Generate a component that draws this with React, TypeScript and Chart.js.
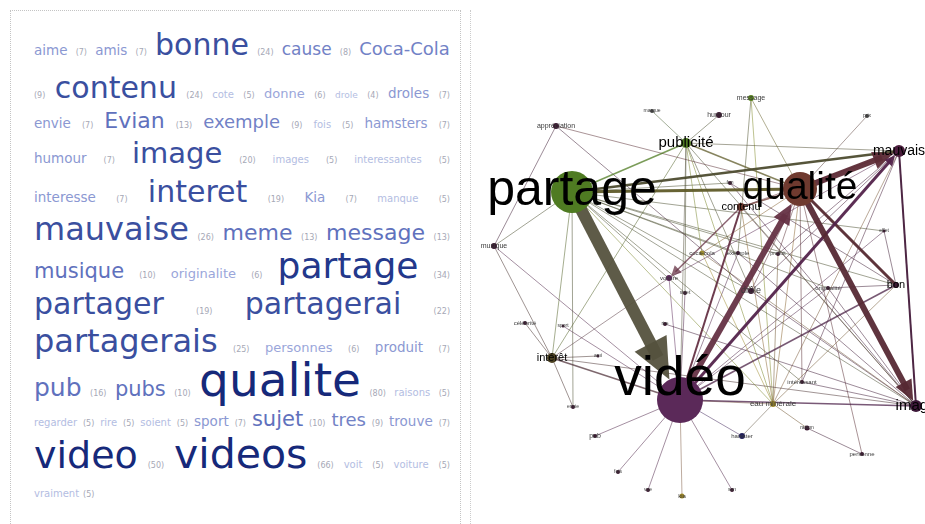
import React, { useEffect, useRef } from "react";
import { Chart, registerables } from "chart.js";

Chart.register(...registerables);

// ---------------- Word cloud data ----------------
const WORDS = [
  "aime", "amis", "bonne", "cause", "Coca-Cola", "contenu", "cote", "donne", "drole", "droles",
  "envie", "Evian", "exemple", "fois", "hamsters", "humour", "image", "images", "interessantes", "interesse",
  "interet", "Kia", "manque", "mauvaise", "meme", "message", "musique", "originalite", "partage", "partager",
  "partagerai", "partagerais", "personnes", "produit", "pub", "pubs", "qualite", "raisons", "regarder", "rire",
  "soient", "sport", "sujet", "tres", "trouve", "video", "videos", "voit", "voiture", "vraiment",
];
const COUNTS = [
  7, 7, 24, 8, 9, 24, 5, 6, 4, 7,
  7, 13, 9, 5, 7, 7, 20, 5, 5, 7,
  19, 7, 5, 26, 13, 13, 10, 6, 34, 19,
  22, 25, 6, 7, 16, 10, 80, 5, 5, 5,
  5, 7, 10, 9, 7, 50, 66, 5, 5, 5,
];
// token index (word = 2i, count = 2i+1) at which each printed line starts
const LINE_STARTS = [0, 9, 20, 30, 38, 46, 52, 58, 62, 68, 76, 90, 98];

// ---------------- Network data ----------------
const NODE_LABELS = [
  "partage", "qualité", "vidéo", "publicité", "mauvais", "image", "contenu", "message", "humour", "appréciation",
  "marque", "prix", "musique", "intérêt", "bon", "drôle", "eau minérale", "voiture", "sujet", "rire",
  "célébrité", "sport", "ami", "envie", "coca-cola", "exemple", "produit", "originalité", "intéressant", "effet",
  "fun", "pub", "fois", "vue", "kia", "son", "hamster", "raison", "personne",
];
const NODE_X = [102, 330, 210, 216, 429, 446, 271, 281, 249, 86, 182, 397, 24, 82, 426, 281, 303, 199, 215, 195, 55, 93, 128, 103, 232, 268, 308, 358, 332, 414, 260, 125, 148, 178, 212, 262, 272, 337, 392];
const NODE_Y = [192, 189, 400, 143, 151, 406, 207, 98, 115, 126, 111, 116, 246, 358, 285, 291, 404, 278, 293, 324, 323, 326, 356, 407, 253, 253, 254, 288, 382, 231, 183, 436, 472, 490, 496, 490, 436, 428, 454];
const NODE_WEIGHT = [21, 17, 23, 5, 6, 6, 4, 3, 3, 3, 2, 2, 3, 5, 3, 3, 3, 3, 2, 2, 2, 1.5, 1.5, 2, 2.5, 2, 2, 2, 2, 1.5, 2, 2, 2, 2, 2.5, 2, 3, 2.5, 2];

// [source, target, weight, directed]
const EDGES: [number, number, number, number][] = [
  [0, 2, 12, 1], [2, 1, 6, 1], [1, 5, 6, 1], [1, 4, 6, 1], [2, 4, 3, 1],
  [4, 5, 2, 0], [0, 4, 2.5, 0], [0, 1, 3, 0], [1, 14, 3, 0], [0, 3, 1.5, 0],
  [3, 1, 1.5, 0], [3, 4, 1, 0], [6, 2, 2, 0], [6, 17, 1.5, 1], [2, 14, 1.5, 0],
  [5, 2, 1.5, 0], [13, 2, 1.5, 0], [9, 12, 1, 0], [9, 1, 1, 0], [9, 15, 1, 0],
  [12, 0, 1, 0], [12, 2, 1, 0], [3, 2, 1, 0], [3, 13, 1, 0], [3, 16, 1, 0],
  [3, 15, 1, 0], [3, 24, 1, 0], [8, 3, 1, 0], [10, 3, 1, 0], [3, 5, 1, 0],
  [3, 18, 1, 0], [7, 1, 1, 0], [7, 25, 1, 0], [11, 1, 1, 0], [0, 14, 1, 0],
  [0, 5, 1, 0], [0, 27, 1, 0], [0, 29, 1, 0], [0, 25, 1, 0], [0, 15, 1, 0],
  [0, 28, 1, 0], [0, 16, 1, 0], [0, 18, 1, 0], [0, 13, 1, 0], [0, 30, 1, 0],
  [13, 23, 1, 0], [13, 22, 1, 0], [13, 20, 1, 0], [13, 17, 1, 0], [13, 5, 1, 0],
  [5, 27, 1, 0], [5, 25, 1, 0], [5, 30, 1, 0], [5, 24, 1, 0], [5, 6, 1, 0],
  [5, 15, 1, 0], [5, 19, 1, 0], [4, 6, 1, 0], [4, 15, 1, 0], [4, 28, 1, 0],
  [4, 16, 1, 0], [4, 26, 1, 0], [4, 17, 1, 0], [14, 27, 1, 0], [14, 29, 1, 0],
  [14, 16, 1, 0], [14, 30, 1, 0], [1, 28, 1, 0], [1, 16, 1, 0], [1, 15, 1, 0],
  [1, 24, 1, 0], [1, 26, 1, 0], [1, 6, 1.5, 0], [1, 38, 1, 0], [2, 31, 1, 0],
  [2, 32, 1, 0], [2, 33, 1, 0], [2, 34, 1, 0], [2, 35, 1, 0], [2, 36, 1, 0],
  [16, 36, 1, 0], [16, 37, 1, 0], [37, 38, 1, 0], [16, 2, 1, 0], [17, 2, 1, 0],
  [18, 2, 1, 0], [21, 2, 1, 0], [24, 16, 1, 0], [26, 16, 1, 0], [27, 2, 1, 0],
  [29, 2, 1, 0], [28, 5, 1, 0], [25, 2, 1, 0], [6, 16, 1, 0], [0, 26, 1, 0],
  [7, 16, 1, 0], [0, 23, 1, 0], [12, 13, 1, 0],
];

// ---------------- Styles ----------------
const NODE_COLORS = [
  "#4f7b22", "#6f3a2f", "#5b2959", "#4f7b22", "#4a1c3c", "#3c1838", "#6f3a2f", "#5a8420", "#3a1830", "#3a1830",
  "#444444", "#444444", "#3a1830", "#4a4020", "#3a1830", "#3a1830", "#a08a28", "#5b2959", "#3a1830", "#3a1830",
  "#3a1830", "#3a1830", "#3a1830", "#3a1830", "#9a8a30", "#3a1830", "#3a1830", "#3a1830", "#3a1830", "#3a1830",
  "#3a1830", "#3a1830", "#3a1830", "#3a1830", "#a08a28", "#3a1830", "#22205a", "#3a1830", "#3a1830",
];
const LABEL_SIZES = [50, 39, 55, 15, 14, 15, 11, 7, 7, 7, 5, 5, 7, 11, 11, 9, 8, 6, 5, 5, 6, 5, 5, 5, 6, 6, 5, 6, 6, 5, 5, 7, 5, 5, 6, 5, 6, 5, 6];
const LABEL_DY: Record<number, number> = { 2: -19 };

function wordSize(c: number): number {
  if (c <= 4) return 9;
  if (c === 5) return 10;
  if (c === 6) return 13;
  if (c === 7) return 13.5;
  if (c === 8) return 17;
  if (c === 9) return 18;
  if (c <= 10) return 21;
  if (c <= 13) return 22;
  if (c <= 16) return 25;
  if (c <= 19) return 30;
  if (c <= 20) return 29;
  if (c <= 24) return 30;
  if (c <= 26) return 32;
  if (c <= 34) return 36;
  if (c <= 50) return 38;
  if (c <= 66) return 41;
  return 47;
}
function wordColor(c: number): string {
  if (c <= 5) return "#b3bde2";
  if (c === 6) return "#9aa6da";
  if (c === 7) return "#8b98d2";
  if (c <= 9) return "#7282c6";
  if (c <= 16) return "#6071bd";
  if (c <= 26) return "#3a4f9f";
  if (c <= 34) return "#23388b";
  return "#16297a";
}

function hexRgb(h: string): number[] {
  return [1, 3, 5].map((i) => parseInt(h.slice(i, i + 2), 16));
}
function edgeColor(s: number, t: number, w: number): string {
  const a = hexRgb(NODE_COLORS[s]);
  const b = hexRgb(NODE_COLORS[t]);
  const m = a.map((v, i) => Math.round((v + b[i]) / 2));
  const alpha = w >= 2 ? 0.95 : w >= 1.5 ? 0.75 : 0.5;
  return `rgba(${m[0]},${m[1]},${m[2]},${alpha})`;
}
function arrowDims(w: number) {
  return { len: Math.max(10, w * 3.4), half: Math.max(5, w * 1.5) };
}

// ---------------- Word cloud ----------------
function WordCloud() {
  const tokens: { text: string; count: number; isWord: boolean }[] = [];
  WORDS.forEach((w, i) => {
    tokens.push({ text: w, count: COUNTS[i], isWord: true });
    tokens.push({ text: `(${COUNTS[i]})`, count: COUNTS[i], isWord: false });
  });
  const baselines = [54, 97, 128, 163, 201, 239, 277, 313, 351, 395, 426, 468, 496];
  const lines = LINE_STARTS.map((s, i) => tokens.slice(s, i + 1 < LINE_STARTS.length ? LINE_STARTS[i + 1] : tokens.length));
  return (
    <div
      style={{
        position: "absolute",
        left: 10,
        top: 10,
        width: 449,
        height: 530,
        border: "1px dotted #c4c4c4",
        background: "#fff",
      }}
    >
      {lines.map((ln, li) => {
        const sizes = ln.map((t) => (t.isWord ? wordSize(t.count) : 8));
        const maxS = Math.max(...sizes);
        const last = li === lines.length - 1;
        return (
          <div
            key={li}
            style={{
              position: "absolute",
              left: 23,
              width: 416,
              top: baselines[li] - 10 - 0.846 * maxS,
              display: "flex",
              justifyContent: last ? "flex-start" : "space-between",
              gap: last ? 4 : 0,
              alignItems: "baseline",
              whiteSpace: "nowrap",
              lineHeight: 1,
              fontFamily: '"DejaVu Sans", Verdana, sans-serif',
            }}
          >
            {ln.map((t, ti) => (
              <span
                key={ti}
                style={{
                  fontSize: sizes[ti],
                  color: t.isWord ? wordColor(t.count) : "#a6a8b6",
                  lineHeight: 1,
                }}
              >
                {t.text}
              </span>
            ))}
          </div>
        );
      })}
    </div>
  );
}

// ---------------- Network graph ----------------
function Graph() {
  const ref = useRef<HTMLCanvasElement | null>(null);
  useEffect(() => {
    if (!ref.current) return;
    const edgeSets = EDGES.map(([s, t, w, d]) => {
      let ex = NODE_X[t];
      let ey = NODE_Y[t];
      if (d) {
        // stop the shaft inside the arrow head (1 layout unit = 1 px)
        const dx = NODE_X[t] - NODE_X[s];
        const dy = NODE_Y[t] - NODE_Y[s];
        const L = Math.hypot(dx, dy);
        const back = NODE_WEIGHT[t] + arrowDims(w).len * 0.6;
        ex = NODE_X[t] - (dx / L) * back;
        ey = NODE_Y[t] - (dy / L) * back;
      }
      return {
        type: "scatter" as const,
        data: [
          { x: NODE_X[s], y: NODE_Y[s] },
          { x: ex, y: ey },
        ],
        showLine: true,
        borderColor: edgeColor(s, t, w),
        borderWidth: w,
        pointRadius: 0,
        pointHoverRadius: 0,
        order: 1,
      };
    });
    const nodeSet = {
      type: "scatter" as const,
      data: NODE_X.map((x, i) => ({ x, y: NODE_Y[i] })),
      pointRadius: NODE_WEIGHT,
      pointHoverRadius: NODE_WEIGHT,
      backgroundColor: NODE_COLORS,
      borderWidth: 0,
      order: 0,
    };
    const deco = {
      id: "graphDeco",
      beforeDatasetDraw(chart: any, args: any) {
        if (args.index !== EDGES.length) return;
        const xs = chart.scales.x;
        const ys = chart.scales.y;
        const ctx = chart.ctx;
        ctx.save();
        EDGES.forEach(([s, t, w, d]) => {
          if (!d) return;
          const x1 = xs.getPixelForValue(NODE_X[s]);
          const y1 = ys.getPixelForValue(NODE_Y[s]);
          const x2 = xs.getPixelForValue(NODE_X[t]);
          const y2 = ys.getPixelForValue(NODE_Y[t]);
          const L = Math.hypot(x2 - x1, y2 - y1);
          const ux = (x2 - x1) / L;
          const uy = (y2 - y1) / L;
          const r = NODE_WEIGHT[t];
          const { len, half } = arrowDims(w);
          const tx = x2 - ux * r;
          const ty = y2 - uy * r;
          const bx = tx - ux * len;
          const by = ty - uy * len;
          ctx.beginPath();
          ctx.moveTo(tx, ty);
          ctx.lineTo(bx - uy * half, by + ux * half);
          ctx.lineTo(bx + uy * half, by - ux * half);
          ctx.closePath();
          ctx.fillStyle = edgeColor(s, t, w);
          ctx.fill();
        });
        ctx.restore();
      },
      afterDatasetsDraw(chart: any) {
        const xs = chart.scales.x;
        const ys = chart.scales.y;
        const ctx = chart.ctx;
        ctx.save();
        ctx.textAlign = "center";
        ctx.textBaseline = "alphabetic";
        NODE_LABELS.forEach((lab, i) => {
          const size = LABEL_SIZES[i];
          ctx.font = `${size}px "Liberation Sans", Arial, sans-serif`;
          ctx.fillStyle = size >= 11 ? "#000000" : "#3a3a3a";
          const px = xs.getPixelForValue(NODE_X[i]);
          const py = ys.getPixelForValue(NODE_Y[i]) + size * 0.25 + (LABEL_DY[i] || 0);
          ctx.fillText(lab, px, py);
        });
        ctx.restore();
      },
    };
    const chart = new Chart(ref.current, {
      type: "scatter",
      data: { datasets: [...edgeSets, nodeSet] as any },
      options: {
        responsive: false,
        maintainAspectRatio: false,
        animation: false,
        events: [],
        layout: { padding: 0, autoPadding: false },
        plugins: { legend: { display: false }, tooltip: { enabled: false } },
        scales: {
          x: { type: "linear", min: 0, max: 455, display: false },
          y: { type: "linear", min: 0, max: 524, reverse: true, display: false },
        },
      },
      plugins: [deco],
    });
    return () => chart.destroy();
  }, []);
  return (
    <canvas
      ref={ref}
      width={455}
      height={524}
      style={{ position: "absolute", left: 470, top: 0, width: 455, height: 524 }}
    />
  );
}

export default function App() {
  return (
    <div
      style={{
        position: "fixed",
        left: 0,
        top: 0,
        width: 925,
        height: 524,
        overflow: "hidden",
        background: "#ffffff",
      }}
    >
      <WordCloud />
      <div style={{ position: "absolute", left: 470, top: 10, height: 514, borderLeft: "1px dotted #cccccc" }} />
      <Graph />
    </div>
  );
}
